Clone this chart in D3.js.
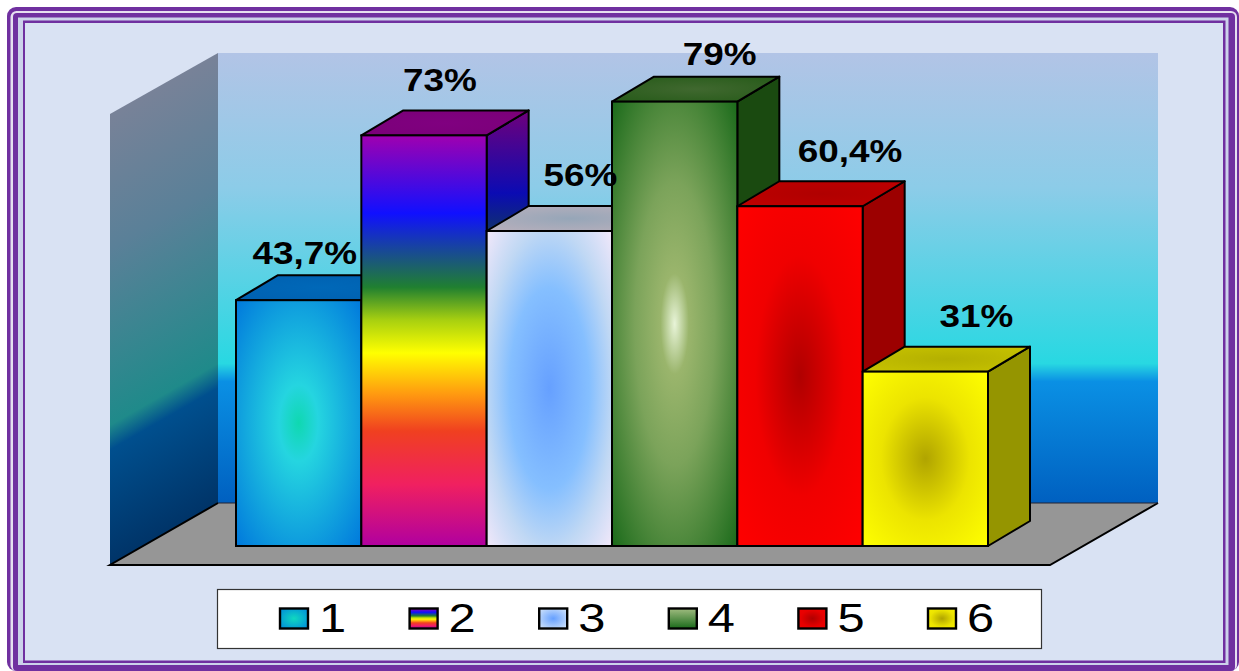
<!DOCTYPE html>
<html><head><meta charset="utf-8">
<style>html,body{margin:0;padding:0;background:#fff}svg{display:block}text{font-family:"Liberation Sans",Arial,sans-serif}</style>
<script src="https://cdn.jsdelivr.net/npm/d3@7/dist/d3.min.js"></script>
</head><body><svg id="c" width="1239" height="671"></svg>
<script>
const categories=["1","2","3","4","5","6"];
const values=[43.7,73,56,79,60.4,31];
const valueLabels=["43,7%","73%","56%","79%","60,4%","31%"];
const sideColors=["#0a3f80","#400090","#8a8a9a","#1a4a10","#9c0000","#959500"];
const topStops=[
 [[0,"#0068b8"],[1,"#0060b0"]],
 [[0,"#800080"],[1,"#7a0078"]],
 [[0,"#96a6b8"],[1,"#bab0bc"]],
 [[0,"#40682f"],[1,"#255a18"]],
 [[0,"#b00000"],[1,"#c00000"]],
 [[0,"#b4b000"],[1,"#c8c400"]]
];
const barStops=[
 [[0,"#0fd8b0"],[.22,"#25d5e0"],[1,"#0078dc"]],
 [[0,"#a000b0"],[.19,"#1010ff"],[.37,"#208030"],[.45,"#a8d010"],[.53,"#ffff00"],[.63,"#ff9a10"],[.72,"#f04020"],[.85,"#f02060"],[1,"#b000a0"]],
 [[0,"#66a0ff"],[.45,"#85bfff"],[.72,"#c0d8f4"],[1,"#f2e8fa"]],
 [[0,"#e8f4d8"],[.16,"#9ab56c"],[.45,"#7ba35a"],[1,"#1a6a1a"]],
 [[0,"#b00000"],[.5,"#f00000"],[1,"#ff0000"]],
 [[0,"#b0a400"],[.5,"#ece400"],[1,"#ffff00"]]
];
const legendStops=[
 [[0,"#10d8c0"],[1,"#0088dc"]],
 barStops[1],
 [[0,"#66a0ff"],[1,"#d8e8fa"]],
 [[0,"#a0bc80"],[1,"#1a6a1a"]],
 [[0,"#b00000"],[.6,"#e80000"],[1,"#f00000"]],
 [[0,"#b0a400"],[.6,"#ece400"],[1,"#f8f000"]]
];
const wallStops=[[0,"#b2c4e6"],[.3,"#8ccce8"],[.69,"#28d8e2"],[.73,"#0a90e4"],[1,"#0060c0"]];
const sideWallStops=[[0,"#788298"],[.3,"#5a8098"],[.69,"#1f8a8a"],[.745,"#004f8e"],[1,"#003468"]];
const labelDx=[6,16,31,45,50,51];
const labelDy=[-36,-44,-45,-37,-44,-45];

const svg=d3.select("#c"),defs=svg.append("defs");
const frameBg="#d9e2f3",purple="#7030a0";
const x=d3.scaleBand().domain(categories).range([236,988]);
const y=d3.scaleLinear().domain([0,80]).range([546,96]);
const dx=42,dy=-25, wdx=108,wdy=-62;
const poly=p=>p.map(q=>q.join(",")).join(" ");
const linear=id=>defs.append("linearGradient").attr("id",id).attr("x1",0).attr("y1",0).attr("x2",0).attr("y2",1);
const radial=id=>defs.append("radialGradient").attr("id",id).attr("cx",.5).attr("cy",.5).attr("r",.707);

function stops(g,arr){g.selectAll("stop").data(arr).join("stop").attr("offset",d=>d[0]).attr("stop-color",d=>d[1]);}
categories.forEach((c,i)=>{
  stops(i===1?linear("bar"+i):radial("bar"+i),barStops[i]);
  stops(i===1||i===3?linear("leg"+i):radial("leg"+i),legendStops[i]);
  stops(radial("top"+i),topStops[i]);
});
stops(linear("side1"),barStops[1].map(([o,c])=>[o,d3.rgb(c).darker(1).formatHex()]));
stops(linear("wall"),wallStops);

const wx0=110,wx1=wx0+wdx, wallBottom=565, wallTop=114;
stops(defs.append("linearGradient").attr("id","side").attr("gradientUnits","userSpaceOnUse")
  .attr("x1",wx0).attr("y1",wallTop).attr("x2",wx0).attr("y2",wallBottom)
  .attr("gradientTransform",`matrix(1,${wdy/wdx},0,1,0,${-wx0*wdy/wdx})`),sideWallStops);

// frame: nested bands
const fr=svg.append("g");
const band=(x0,y0,x1,y1,fill,rx)=>fr.append("rect").attr("x",x0).attr("y",y0).attr("width",x1-x0).attr("height",y1-y0).attr("fill",fill).attr("rx",rx||0);
band(0,0,1239,671,"#fff");
band(7,7,1239,671,purple,9);
band(10.5,11,1237,671,"#e6dff0",6);
band(13,13,1235,671,purple,4);
band(18,17.5,1228.5,665,"#ccd2ea");
band(23,20.5,1225.5,663,purple);
band(25,23,1223,660.5,frameBg);

// walls and floor
const plot=svg.append("g");
const backX=wx1, backR=1158, backTop=wallTop+wdy+1, backBottom=wallBottom+wdy;
plot.append("rect").attr("x",backX).attr("y",backTop).attr("width",backR-backX).attr("height",backBottom-backTop).attr("fill","url(#wall)");
plot.append("polygon").attr("points",poly([[wx0,wallTop],[wx1,backTop],[wx1,backBottom],[wx0,wallBottom]])).attr("fill","url(#side)");
plot.append("polygon").attr("points",poly([[wx0,wallBottom],[wx1,backBottom],[backR,backBottom],[backR-wdx,wallBottom]]))
  .attr("fill","#969696");
plot.append("path").attr("d",`M${wx1},${backBottom}L${wx0},${wallBottom}L${backR-wdx},${wallBottom}L${backR},${backBottom}`)
  .attr("fill","none").attr("stroke","#000").attr("stroke-width",2);
plot.append("path").attr("d",`M${wx1},${backBottom}L${backR},${backBottom}`).attr("stroke","#223").attr("stroke-width",1);

// bars, left to right so later bars overlap earlier sides
const bars=plot.selectAll("g.bar").data(categories).join("g").attr("class","bar");
bars.each(function(c,i){
  const g=d3.select(this),l=x(c),r=l+x.bandwidth(),t=y(values[i]),b=y(0);
  const add=(pts,fill)=>g.append("polygon").attr("points",poly(pts)).attr("fill",fill)
    .attr("stroke","#000").attr("stroke-width",2).attr("stroke-linejoin","round");
  add([[r,t],[r+dx,t+dy],[r+dx,b+dy],[r,b]],i===1?"url(#side1)":sideColors[i]);
  add([[l,t],[l+dx,t+dy],[r+dx,t+dy],[r,t]],`url(#top${i})`);
  g.append("rect").attr("x",l).attr("y",t).attr("width",x.bandwidth()).attr("height",b-t).attr("fill",`url(#bar${i})`).attr("stroke","#000").attr("stroke-width",2);
});
// value labels
plot.selectAll("text.v").data(categories).join("text").attr("class","v")
  .attr("transform",(c,i)=>`translate(${x(c)+x.bandwidth()/2+labelDx[i]},${y(values[i])+labelDy[i]}) scale(1.19,1)`)
  .attr("text-anchor","middle").attr("font-size",31).attr("font-weight","bold").attr("fill","#000")
  .text((c,i)=>valueLabels[i]);

// legend
const lg=svg.append("g");
lg.append("rect").attr("x",217.5).attr("y",589.5).attr("width",824).attr("height",59).attr("fill","#fff").attr("stroke","#333").attr("stroke-width",1.2);
const lx=d3.scalePoint().domain(categories).range([280,928]);
const it=lg.selectAll("g.i").data(categories).join("g").attr("class","i").attr("transform",c=>`translate(${lx(c)},0)`);
it.append("rect").attr("x",0).attr("y",608.5).attr("width",28).attr("height",20).attr("fill",(c,i)=>`url(#leg${i})`).attr("stroke","#000").attr("stroke-width",2.4);
it.append("text").attr("transform","translate(39,632) scale(1.22,1)").attr("font-size",40).attr("fill","#000").text(c=>c);
</script></body></html>
